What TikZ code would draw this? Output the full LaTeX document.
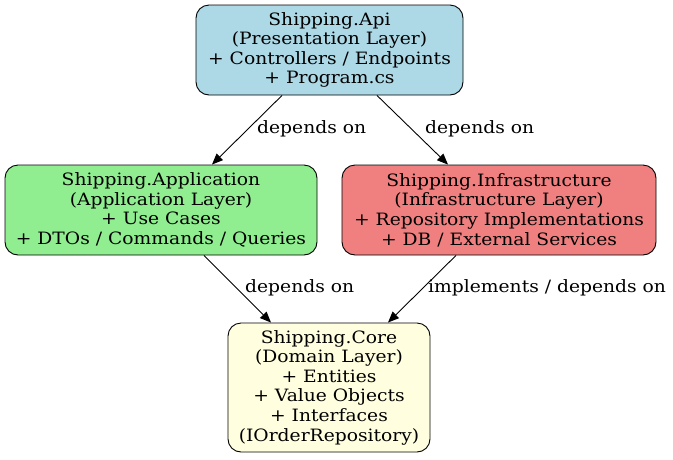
\documentclass[tikz,border=0pt]{standalone}
\usepackage{fontspec}
\setmainfont{DejaVu Serif}[FakeStretch=1.10]
\usetikzlibrary{arrows.meta}
\definecolor{cApi}{RGB}{173,216,230}
\definecolor{cApp}{RGB}{144,238,144}
\definecolor{cInf}{RGB}{240,128,128}
\definecolor{cCore}{RGB}{255,255,224}
\tikzset{
  layer/.style={draw=black, line width=0.9pt, rounded corners=13pt, align=center,
    font=\fontsize{17}{19.6}\selectfont, inner sep=0pt, anchor=center},
  dep/.style={draw=black, line width=0.9pt, -{Triangle[length=11pt,width=9pt]}},
  lbl/.style={font=\fontsize{17}{19}\selectfont, anchor=west, inner sep=0pt}
}
\begin{document}
\begin{tikzpicture}[x=1pt,y=-1pt]
\useasboundingbox (0,0) rectangle (673,459);
\node[layer, fill=cApi, minimum width=267pt, minimum height=90pt] (api) at (329.5,50)
  {Shipping.Api\\(Presentation Layer)\\+ Controllers / Endpoints\\+ Program.cs};
\node[layer, fill=cApp, minimum width=312pt, minimum height=90pt] (app) at (161,210)
  {Shipping.Application\\(Application Layer)\\+ Use Cases\\+ DTOs / Commands / Queries};
\node[layer, fill=cInf, minimum width=314pt, minimum height=90pt] (inf) at (499,210)
  {Shipping.Infrastructure\\(Infrastructure Layer)\\+ Repository Implementations\\+ DB / External Services};
\node[layer, fill=cCore, minimum width=202pt, minimum height=129pt] (core) at (329,387.5)
  {Shipping.Core\\(Domain Layer)\\+ Entities\\+ Value Objects\\+ Interfaces\\(IOrderRepository)};
\draw[dep] ([xshift=-47.5pt]api.south) -- ([xshift=51pt]app.north);
\draw[dep] ([xshift=47.5pt]api.south) -- ([xshift=-51pt]inf.north);
\draw[dep] ([xshift=43pt]app.south) -- ([xshift=-58pt]core.north);
\draw[dep] ([xshift=-43pt]inf.south) -- ([xshift=59pt]core.north);
\node[lbl] (l1) at (257,129) {depends on};
\node[lbl] (l2) at (425,129) {depends on};
\node[lbl] (l3) at (245,288) {depends on};
\node[lbl] (l4) at (428,288) {implements / depends on};
\end{tikzpicture}
\end{document}
